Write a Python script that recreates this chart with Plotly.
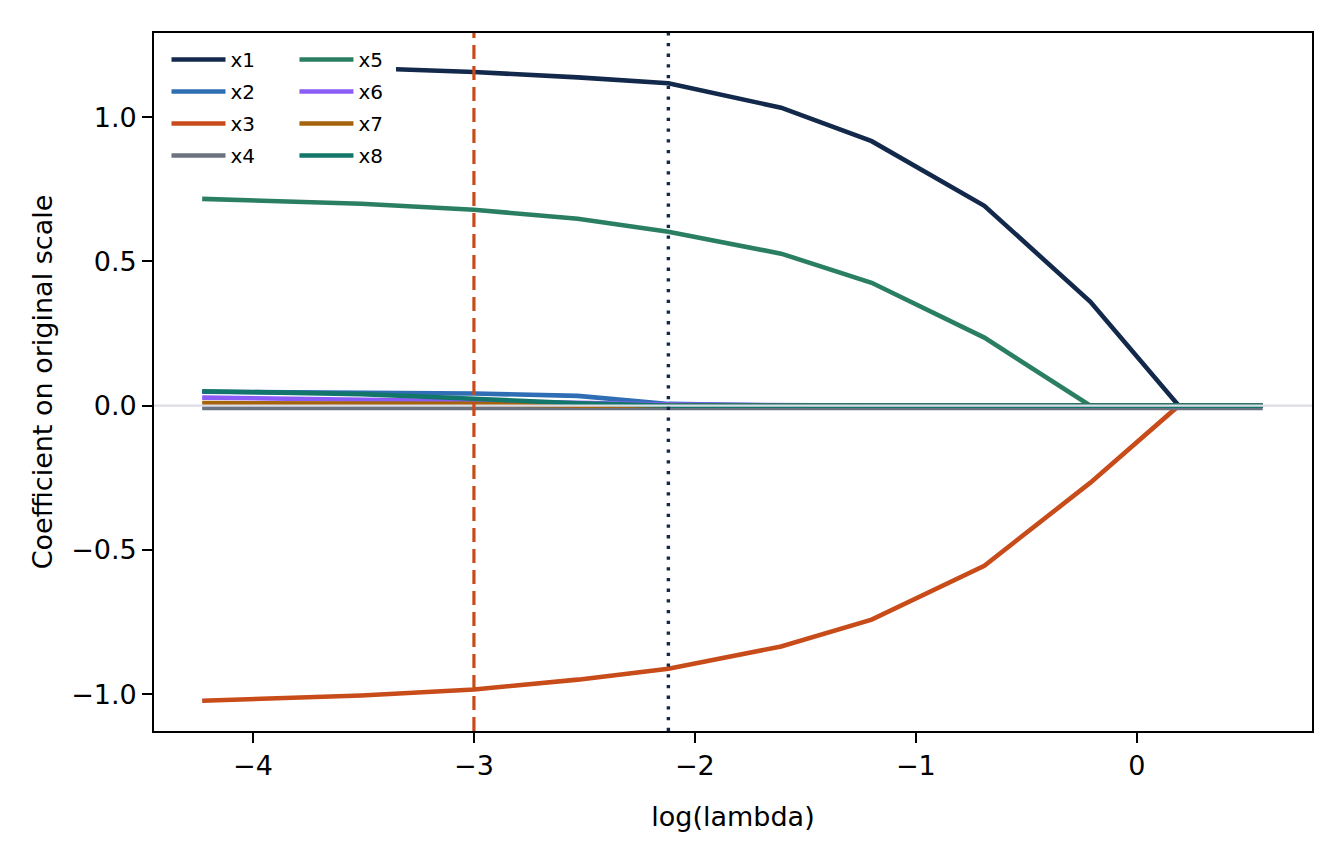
import plotly.graph_objects as go

log_lambda = [-4.23, -3.51, -3.00, -2.53, -2.12, -1.61, -1.20, -0.69, -0.21, 0.19, 0.57]

coef_x1 = [1.19, 1.172, 1.157, 1.138, 1.118, 1.033, 0.917, 0.693, 0.36, 0.0, 0.0]
coef_x2 = [0.048, 0.046, 0.042, 0.034, 0.006, 0.0, 0.0, 0.0, 0.0, 0.0, 0.0]
coef_x3 = [-1.023, -1.005, -0.984, -0.95, -0.912, -0.835, -0.742, -0.555, -0.267, 0.0, 0.0]
coef_x4 = [-0.008, -0.008, -0.008, -0.008, -0.008, -0.008, -0.008, -0.008, -0.008, -0.008, -0.008]
coef_x5 = [0.717, 0.700, 0.679, 0.648, 0.603, 0.527, 0.426, 0.236, 0.0, 0.0, 0.0]
coef_x6 = [0.028, 0.022, 0.016, 0.010, 0.004, 0.0, 0.0, 0.0, 0.0, 0.0, 0.0]
coef_x7 = [0.009, 0.008, 0.006, 0.0, 0.0, 0.0, 0.0, 0.0, 0.0, 0.0, 0.0]
coef_x8 = [0.050, 0.040, 0.024, 0.008, 0.0, 0.0, 0.0, 0.0, 0.0, 0.0, 0.0]

series_names = ["x1", "x2", "x3", "x4", "x5", "x6", "x7", "x8"]
series_values = [coef_x1, coef_x2, coef_x3, coef_x4, coef_x5, coef_x6, coef_x7, coef_x8]
series_colors = ["#13294b", "#2f6eb5", "#c84b1a", "#6b7280",
                 "#2a7f62", "#8b5cf6", "#a5630b", "#13766a"]

lambda_min_log = -3.0
lambda_1se_log = -2.12

x_ticks = [-4, -3, -2, -1, 0]
y_ticks = [-1.0, -0.5, 0.0, 0.5, 1.0]

FONT = "DejaVu Sans"

fig = go.Figure()
for i, (name, vals, col) in enumerate(zip(series_names, series_values, series_colors)):
    fig.add_trace(go.Scatter(
        x=log_lambda, y=vals, mode="lines", name=name, legendgroup=name,
        line=dict(color=col, width=4.6),
        legend="legend" if i < 4 else "legend2",
    ))

# zero reference line on top
fig.add_shape(type="line", xref="paper", yref="y", x0=0, x1=1, y0=0, y1=0,
              line=dict(color="#dcdde6", width=2.2), layer="above")
fig.add_vline(x=lambda_min_log, line=dict(color=series_colors[2], width=3.2, dash="14px,7px"))
fig.add_vline(x=lambda_1se_log, line=dict(color=series_colors[0], width=3.4, dash="3.3px,7.4px"))
# white legend background box (legend frame without edge)
fig.add_shape(type="rect", xref="paper", yref="paper", x0=0.003, x1=0.209, y0=0.792, y1=0.993,
              fillcolor="white", line=dict(width=0), layer="above")

axis_common = dict(
    showgrid=False, zeroline=False, showline=True, linecolor="black", linewidth=1.7,
    mirror=True, ticks="outside", ticklen=10, tickwidth=1.7, tickcolor="black",
    tickfont=dict(family=FONT, size=27, color="black"),
)

legend_common = dict(yanchor="top", xanchor="left", y=0.99, bgcolor="rgba(255,255,255,0)",
                     borderwidth=0, font=dict(family=FONT, size=20, color="black"),
                     tracegroupgap=3, itemwidth=54)

fig.update_layout(
    width=1328, height=848,
    paper_bgcolor="white", plot_bgcolor="white",
    margin=dict(l=146, r=24, t=25, b=125),
    font=dict(family=FONT, color="black"),
    xaxis=dict(axis_common, range=[-4.448, 0.793], tickvals=x_ticks,
               title=dict(text="log(lambda)", font=dict(family=FONT, size=27), standoff=27)),
    yaxis=dict(axis_common, range=[-1.128, 1.292], tickvals=y_ticks, tickformat=".1f",
               title=dict(text="Coefficient on original scale", font=dict(family=FONT, size=27), standoff=11)),
    legend=dict(legend_common, x=0.0108),
    legend2=dict(legend_common, x=0.1213),
    showlegend=True,
)

fig.write_html("out.html")
